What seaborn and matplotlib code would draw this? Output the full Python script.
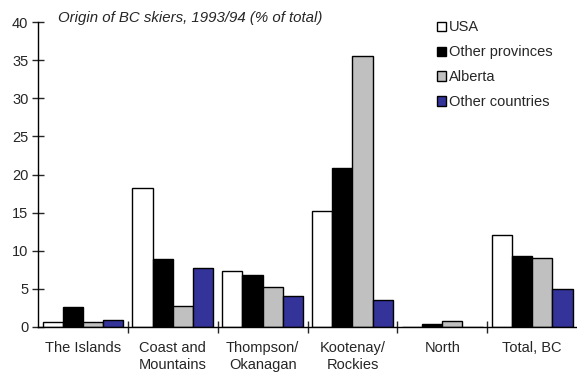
import pandas as pd
import numpy as np
import matplotlib.pyplot as plt
import seaborn as sns
from matplotlib.patches import Patch
from matplotlib.ticker import FixedLocator

regions = ['The Islands', 'Coast and\nMountains', 'Thompson/\nOkanagan',
           'Kootenay/\nRockies', 'North', 'Total, BC']
origins = ['USA', 'Other provinces', 'Alberta', 'Other countries']
usa = [0.6, 18.2, 7.4, 15.2, 0.0, 12.1]
other_prov = [2.6, 8.9, 6.8, 20.9, 0.45, 9.3]
alberta = [0.6, 2.8, 5.2, 35.6, 0.75, 9.0]
other_countries = [0.9, 7.8, 4.1, 3.5, 0.0, 5.0]
colors = ['#ffffff', '#000000', '#c0c0c0', '#333399']

df = pd.DataFrame({
    'region': regions * 4,
    'origin': np.repeat(origins, len(regions)),
    'pct': usa + other_prov + alberta + other_countries,
})

sns.set_style('white')
plt.rcParams['font.family'] = ['Liberation Sans', 'DejaVu Sans']

fig = plt.figure(figsize=(5.77, 3.75), dpi=100)
ax = fig.add_axes([0.066, 0.128, 0.934, 0.813])

sns.barplot(data=df, x='region', y='pct', hue='origin', order=regions,
            hue_order=origins, palette=colors, width=0.9, gap=0,
            edgecolor='black', linewidth=1, saturation=1, legend=False, ax=ax)

ax.set_ylim(0, 40)
ax.set_xlim(-0.5, 5.5)
ax.set_yticks(range(0, 41, 5))
ax.tick_params(axis='y', direction='inout', length=8, width=1, labelsize=10.5, pad=3, left=True)
ax.tick_params(axis='x', which='major', length=0, labelsize=10.5, pad=10)
ax.xaxis.set_minor_locator(FixedLocator([0.5, 1.5, 2.5, 3.5, 4.5]))
ax.tick_params(axis='x', which='minor', direction='inout', length=8, width=1, bottom=True)
for lab in ax.get_xticklabels():
    lab.set_linespacing(1.25)
ax.set_xlabel('')
ax.set_ylabel('')
for s in ['top', 'right']:
    ax.spines[s].set_visible(False)
for s in ['left', 'bottom']:
    ax.spines[s].set_color('black')
    ax.spines[s].set_linewidth(1)

fig.text(0.101, 0.952, 'Origin of BC skiers, 1993/94 (% of total)',
         style='italic', fontsize=10.8, ha='left', va='center')

handles = [Patch(facecolor=c, edgecolor='black', label=o) for c, o in zip(colors, origins)]
ax.legend(handles=handles, loc='upper left', bbox_to_anchor=(0.73, 1.025),
          frameon=False, fontsize=10.5, handlelength=0.6, handleheight=0.6,
          handletextpad=0.2, labelspacing=0.75, borderaxespad=0)

fig.savefig('out.png', dpi=100)
